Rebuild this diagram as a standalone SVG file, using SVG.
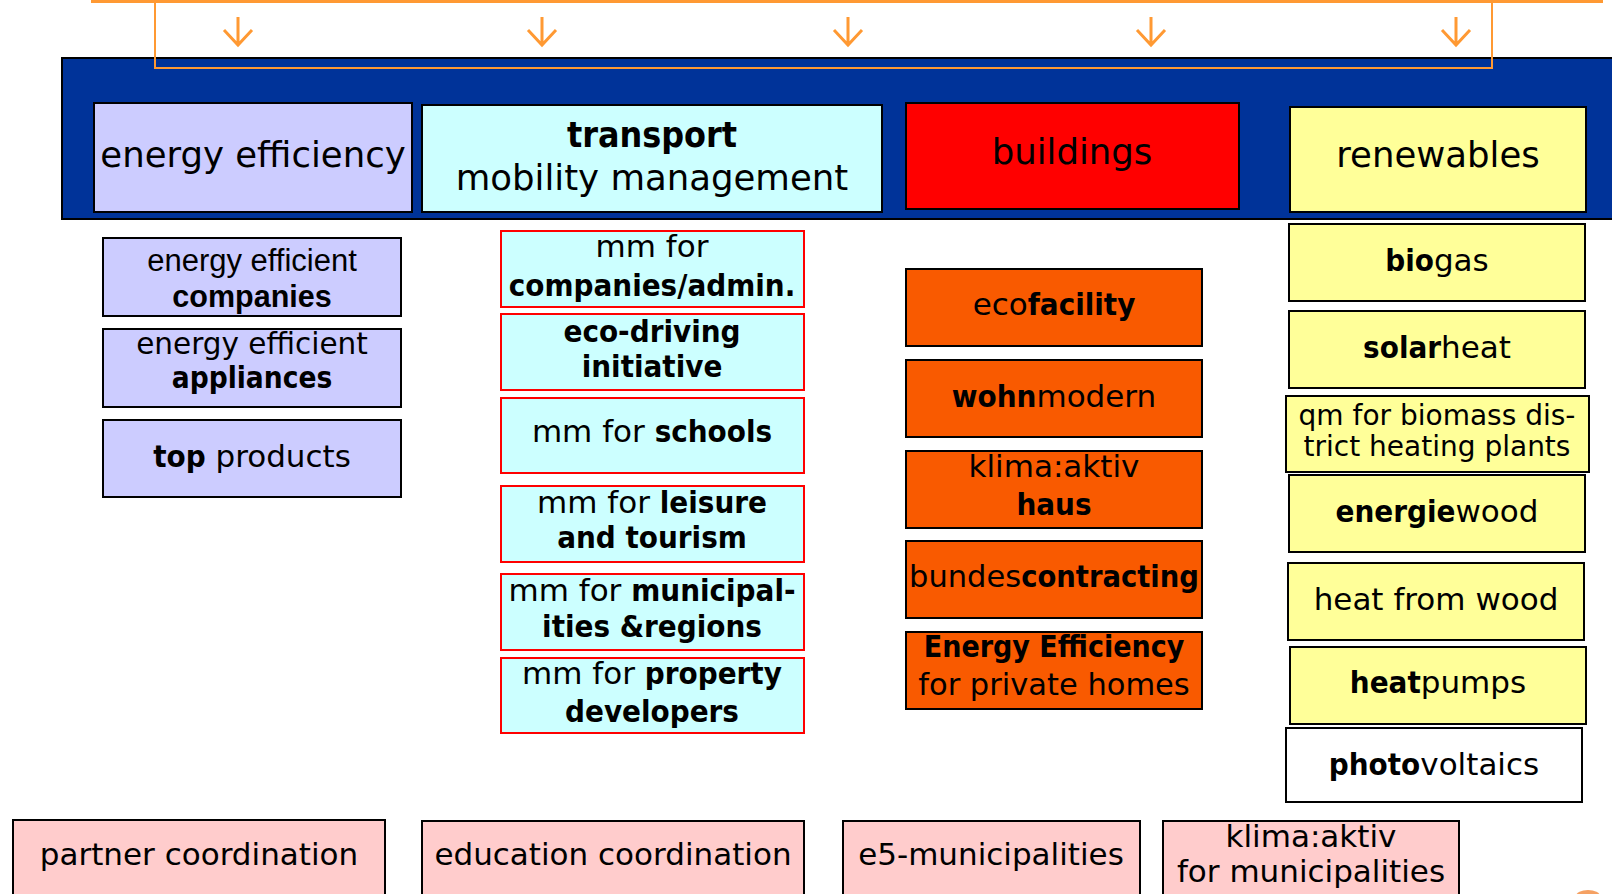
<svg xmlns="http://www.w3.org/2000/svg" width="1612" height="894" viewBox="0 0 1612 894">
<style>
text{font-family:"DejaVu Sans",sans-serif;fill:#000;text-anchor:middle}
.b{font-family:"DejaVu Sans Condensed","DejaVu Sans",sans-serif;font-weight:bold;font-stretch:condensed}
.h{font-family:"Liberation Sans",Arial,sans-serif}
.hb{font-family:"Liberation Sans",Arial,sans-serif;font-weight:bold}
.hd{font-size:35.5px}
.s{font-size:31px}
.box{stroke:#000;stroke-width:2}
.ee{fill:#ccccff}
.tr{fill:#ccffff}
.trs{fill:#ccffff;stroke:#ff0000;stroke-width:2}
.bd{fill:#f95a00;stroke:#000;stroke-width:2}
.rn{fill:#ffff99;stroke:#000;stroke-width:2}
.pk{fill:#ffcccc;stroke:#000;stroke-width:2}
.arr{fill:none;stroke:#ff9933;stroke-width:3}
</style>
<rect width="1612" height="894" fill="#fff"/>
<g id="band">
<rect x="62" y="58" width="1560" height="161" fill="#003399" stroke="#000" stroke-width="2"/>
</g>
<g id="connectors">
<line x1="91" y1="1.5" x2="1603" y2="1.5" stroke="#ff9933" stroke-width="3"/>
<rect x="155" y="2" width="1337" height="66" fill="none" stroke="#ff9933" stroke-width="2"/>
<g class="arr">
<path d="M238 17V45M224 30L238 45L252 30"/>
<path d="M542 17V45M528 30L542 45L556 30"/>
<path d="M848 17V45M834 30L848 45L862 30"/>
<path d="M1151 17V45M1137 30L1151 45L1165 30"/>
<path d="M1456 17V45M1442 30L1456 45L1470 30"/>
</g>
</g>
<g id="h-energy"><rect class="box ee" x="94" y="103" width="318" height="109"/><text class="hd" x="253" y="167">energy efficiency</text></g>
<g id="h-transport"><rect class="box tr" x="422" y="105" width="460" height="107"/><text class="hd b" x="652" y="147">transport</text><text class="hd" x="652" y="190">mobility management</text></g>
<g id="h-buildings"><rect class="box" fill="#ff0000" x="906" y="103" width="333" height="106"/><text class="hd" x="1072" y="164">buildings</text></g>
<g id="h-renewables"><rect class="box" fill="#ffff99" x="1290" y="107" width="296" height="105"/><text class="hd" x="1438" y="167">renewables</text></g>

<g id="ee1"><rect class="box ee" x="103" y="238" width="298" height="78"/><text class="h" font-size="31" x="252" y="271">energy efficient</text><text class="hb" font-size="30.5" x="252" y="307">companies</text></g>
<g id="ee2"><rect class="box ee" x="103" y="329" width="298" height="78"/><text font-size="29.5" x="252" y="354">energy efficient</text><text class="b" font-size="29.5" x="252" y="388">appliances</text></g>
<g id="ee3"><rect class="box ee" x="103" y="420" width="298" height="77"/><text class="s" x="252" y="467"><tspan class="b">top</tspan> products</text></g>

<g id="mm1"><rect class="trs" x="501" y="231" width="303" height="76"/><text class="s" x="652" y="257">mm for</text><text class="s b" x="652" y="296">companies/admin.</text></g>
<g id="mm2"><rect class="trs" x="501" y="314" width="303" height="76"/><text class="s b" x="652" y="342">eco-driving</text><text class="s b" x="652" y="377">initiative</text></g>
<g id="mm3"><rect class="trs" x="501" y="398" width="303" height="75"/><text class="s" x="652" y="442">mm for <tspan class="b">schools</tspan></text></g>
<g id="mm4"><rect class="trs" x="501" y="486" width="303" height="76"/><text class="s" x="652" y="513">mm for <tspan class="b">leisure</tspan></text><text class="s b" x="652" y="548">and tourism</text></g>
<g id="mm5"><rect class="trs" x="501" y="574" width="303" height="76"/><text class="s" x="652" y="601">mm for <tspan class="b">municipal-</tspan></text><text class="s b" x="652" y="637">ities &amp;regions</text></g>
<g id="mm6"><rect class="trs" x="501" y="658" width="303" height="75"/><text class="s" x="652" y="684">mm for <tspan class="b">property</tspan></text><text class="s b" x="652" y="722">developers</text></g>

<g id="b1"><rect class="bd" x="906" y="269" width="296" height="77"/><text class="s" x="1054" y="315">eco<tspan class="b">facility</tspan></text></g>
<g id="b2"><rect class="bd" x="906" y="360" width="296" height="77"/><text class="s" x="1054" y="407"><tspan class="b">wohn</tspan>modern</text></g>
<g id="b3"><rect class="bd" x="906" y="451" width="296" height="77"/><text class="s" x="1054" y="477">klima:aktiv</text><text class="s b" x="1054" y="515">haus</text></g>
<g id="b4"><rect class="bd" x="906" y="541" width="296" height="77"/><text font-size="30.5" x="1054" y="587">bundes<tspan class="b">contracting</tspan></text></g>
<g id="b5"><rect class="bd" x="906" y="632" width="296" height="77"/><text class="b" font-size="30" x="1054" y="657">Energy Efficiency</text><text font-size="30.5" x="1054" y="695">for private homes</text></g>

<g id="r1"><rect class="rn" x="1289" y="224" width="296" height="77"/><text class="s" x="1437" y="271"><tspan class="b">bio</tspan>gas</text></g>
<g id="r2"><rect class="rn" x="1289" y="311" width="296" height="77"/><text class="s" x="1437" y="358"><tspan class="b">solar</tspan>heat</text></g>
<g id="r3"><rect class="rn" x="1286" y="396" width="303" height="76"/><text font-size="28" x="1437" y="425">qm for biomass dis-</text><text font-size="28" x="1437" y="456">trict heating plants</text></g>
<g id="r4"><rect class="rn" x="1289" y="475" width="296" height="77"/><text class="s" x="1437" y="522"><tspan class="b">energie</tspan>wood</text></g>
<g id="r5"><rect class="rn" x="1288" y="563" width="296" height="77"/><text class="s" x="1436" y="610">heat from wood</text></g>
<g id="r6"><rect class="rn" x="1290" y="647" width="296" height="77"/><text class="s" x="1438" y="693"><tspan class="b">heat</tspan>pumps</text></g>
<g id="r7"><rect class="box" fill="#fff" x="1286" y="728" width="296" height="74"/><text class="s" x="1434" y="775"><tspan class="b">photo</tspan>voltaics</text></g>

<g id="c1"><rect class="pk" x="13" y="820" width="372" height="90"/><text class="s" x="199" y="865">partner coordination</text></g>
<g id="c2"><rect class="pk" x="422" y="821" width="382" height="90"/><text class="s" x="613" y="865">education coordination</text></g>
<g id="c3"><rect class="pk" x="843" y="821" width="297" height="90"/><text class="s" x="991" y="865">e5-municipalities</text></g>
<g id="c4"><rect class="pk" x="1163" y="821" width="296" height="90"/><text class="s" x="1311" y="847">klima:aktiv</text><text class="s" x="1311" y="882">for municipalities</text></g>
<ellipse cx="1588" cy="896" rx="12" ry="6" fill="#f28a3c" opacity="0.8"/>
</svg>
